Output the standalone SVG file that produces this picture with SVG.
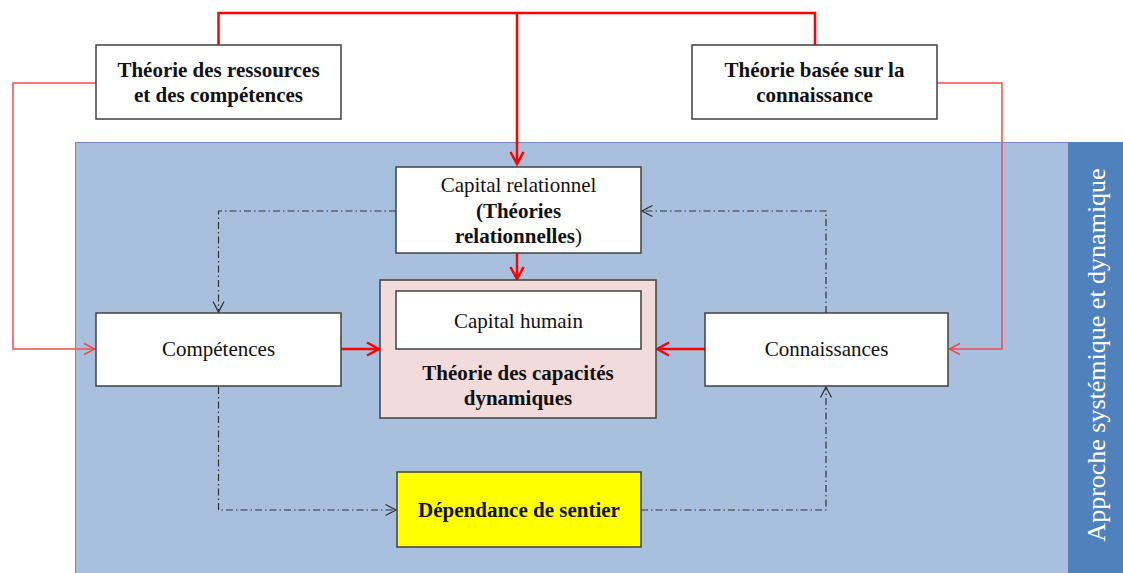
<svg xmlns="http://www.w3.org/2000/svg" width="1123" height="573" viewBox="0 0 1123 573">
<defs>
<style>
.box{fill:#fff;stroke:#404040;stroke-width:1.5}
.t{font-family:"Liberation Serif","Times New Roman",serif;font-size:21px;fill:#111;text-anchor:middle}
.b{font-weight:bold}
.red{fill:none;stroke:#ff0000;stroke-width:2.5}
.redthin{fill:none;stroke:#f24b4b;stroke-width:1.5}
.dd{fill:none;stroke:#333;stroke-width:1.2;stroke-dasharray:7 3 1.5 3}
</style>
<marker id="ar" viewBox="0 0 16 16" refX="14" refY="8" markerWidth="16" markerHeight="16" markerUnits="userSpaceOnUse" orient="auto">
<path d="M2,1.5 L14,8 L2,14.5" fill="none" stroke="#ff0000" stroke-width="2.5"/>
</marker>
<marker id="art" viewBox="0 0 14 14" refX="12.5" refY="7" markerWidth="14" markerHeight="14" markerUnits="userSpaceOnUse" orient="auto">
<path d="M1.5,1.5 L12.5,7 L1.5,12.5" fill="none" stroke="#f24b4b" stroke-width="1.5"/>
</marker>
<marker id="ad" viewBox="0 0 14 14" refX="12.5" refY="7" markerWidth="14" markerHeight="14" markerUnits="userSpaceOnUse" orient="auto">
<path d="M2,1.5 L12.5,7 L2,12.5" fill="none" stroke="#333" stroke-width="1.3"/>
</marker>
</defs>
<rect width="1123" height="573" fill="#fff"/>
<g id="background">
<rect x="75.5" y="142.5" width="993" height="432" fill="#a8c0de" stroke="#6e8fbd" stroke-width="1"/>
<rect x="1068" y="142" width="55" height="431" fill="#4f81bd"/>
<text class="t" x="0" y="0" transform="translate(1105,355) rotate(-90)" style="font-size:26px;fill:#fff">Approche systémique et dynamique</text>
</g>
<g id="connectors">
<path class="red" d="M218.5,45 V13 H815 V45"/>
<path class="red" d="M517,13 V164" marker-end="url(#ar)"/>
<path class="red" d="M517,253 V279" marker-end="url(#ar)"/>
<path class="red" d="M341,349 H379" marker-end="url(#ar)"/>
<path class="red" d="M705,349 H657" marker-end="url(#ar)"/>
<path class="redthin" d="M96,83 H13 V349 H95" marker-end="url(#art)"/>
<path class="redthin" d="M937,83 H1002 V349 H949" marker-end="url(#art)"/>
<path class="dd" d="M396,211 H218.5 V312" marker-end="url(#ad)"/>
<path class="dd" d="M826,313 V211 H642" marker-end="url(#ad)"/>
<path class="dd" d="M218.5,387 V510 H396" marker-end="url(#ad)"/>
<path class="dd" d="M641,510 H826 V387" marker-end="url(#ad)"/>
</g>
<g id="n-ressources">
<rect class="box" x="96" y="45" width="245" height="74"/>
<text class="t b" x="218.5" y="77">Théorie des ressources</text>
<text class="t b" x="218.5" y="102">et des compétences</text>
</g>
<g id="n-connaissance">
<rect class="box" x="692" y="45" width="245" height="74"/>
<text class="t b" x="814.5" y="77">Théorie basée sur la</text>
<text class="t b" x="814.5" y="102">connaissance</text>
</g>
<g id="n-capital-relationnel">
<rect class="box" x="396" y="167" width="245" height="86"/>
<text class="t" x="518.5" y="192">Capital relationnel</text>
<text class="t b" x="518.5" y="218">(Théories</text>
<text class="t" x="518.5" y="243"><tspan class="b">relationnelles</tspan>)</text>
</g>
<g id="n-capacites">
<rect x="380" y="280" width="276" height="138" fill="#f2dcdb" stroke="#404040" stroke-width="1.5"/>
<text class="t b" x="518" y="380">Théorie des capacités</text>
<text class="t b" x="518" y="405">dynamiques</text>
</g>
<g id="n-capital-humain">
<rect class="box" x="396" y="291" width="245" height="58"/>
<text class="t" x="518.5" y="328">Capital humain</text>
</g>
<g id="n-competences">
<rect class="box" x="96" y="313" width="245" height="73"/>
<text class="t" x="218.5" y="356">Compétences</text>
</g>
<g id="n-connaissances">
<rect class="box" x="705" y="313" width="243" height="73"/>
<text class="t" x="826.5" y="356">Connaissances</text>
</g>
<g id="n-dependance">
<rect x="397" y="472" width="244" height="75" fill="#ffff00" stroke="#404040" stroke-width="1.5"/>
<text class="t b" x="519" y="517">Dépendance de sentier</text>
</g>
</svg>
